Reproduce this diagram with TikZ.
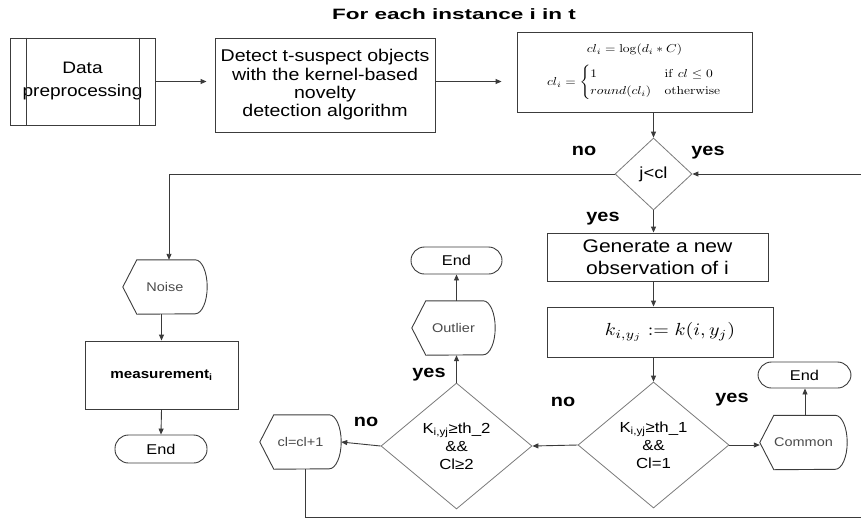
\documentclass[tikz,border=0pt]{standalone}
\usepackage{amsmath}
\usepackage{graphicx}
\usepackage[no-math]{fontspec}
\setmainfont{Liberation Sans}[FakeStretch=1.15]
\newfontfamily\headfont{Liberation Sans}[FakeStretch=1.5]
\usetikzlibrary{shapes.geometric,arrows.meta,calc}

\definecolor{boxgray}{HTML}{3C3C3C}
\definecolor{diagray}{HTML}{7A7A7A}
\definecolor{linegray}{HTML}{3A3A3A}
\definecolor{dispgray}{HTML}{4A4A4A}

\newcommand\fs[2]{\fontsize{#1}{#2}\selectfont}
% outline of a display symbol: pointed left end, rounded right end
\newcommand\dispoutline[1]{%
  \draw[draw=boxgray, line width=0.9pt]
    (#1.west) -- ([xshift=14pt]#1.north west) -- ([xshift=-12pt]#1.north east)
    arc[start angle=90, end angle=-90, x radius=12pt, y radius=27pt]
    -- ([xshift=14pt]#1.south west) -- cycle;}

\tikzset{
  box/.style={draw=boxgray, line width=0.9pt, rectangle, inner sep=0pt, align=center},
  dec/.style={draw=diagray, line width=0.8pt, diamond, inner sep=0pt, align=center},
  term/.style={draw=boxgray, line width=0.9pt, rectangle, rounded corners=13.5pt,
    inner sep=0pt, font=\fs{14.2}{16}},
  disp/.style={rectangle, inner sep=0pt, minimum height=54pt, text=dispgray,
    font=\fs{12.6}{15}},
  flow/.style={draw=linegray, line width=0.9pt, -{Triangle[length=6pt,width=5pt]}},
  lbl/.style={font=\bfseries\fs{17.3}{20}, anchor=base},
}

\begin{document}
\begin{tikzpicture}[x=1pt, y=1pt]
\useasboundingbox (0,0) rectangle (861,-520);
\clip (0,0) rectangle (861,-520);

% heading
\node[font=\headfont\bfseries\fs{15}{18}, anchor=base] (title) at (454,-19) {For each instance i in t};

% top row
\node[box, minimum width=145, minimum height=87, font=\fs{16.6}{23}] (prep) at (82.5,-81.5) {Data\\preprocessing};
\draw[draw=boxgray, line width=0.9pt] ([xshift=17pt]prep.north west) -- ([xshift=17pt]prep.south west);
\draw[draw=boxgray, line width=0.9pt] ([xshift=-16pt]prep.north east) -- ([xshift=-16pt]prep.south east);

\node[box, minimum width=220, minimum height=94, font=\fs{17}{18.3}] (detect) at (325,-85)
  {Detect t-suspect objects\\with the kernel-based\\novelty\\detection algorithm};

\node[box, minimum width=235, minimum height=80] (calc) at (634.5,-72)
  {\scalebox{1.35}[1.15]{$cl_i=\log(d_i*C)$}\\[9pt]
   \scalebox{1.35}[1.15]{$cl_i=\begin{cases}1 & \mathrm{if}\ cl\le 0\\ round(cl_i) & \mathrm{otherwise}\end{cases}$}};

% loop test
\node[dec, minimum width=77, minimum height=72, aspect=1.07, font=\fs{16}{18}] (jc) at (653.5,-174) {j<cl};

\node[box, minimum width=221, minimum height=48, font=\fs{18.3}{21.7}] (gen) at (657.5,-257)
  {Generate a new\\observation of i};
\node[box, minimum width=226, minimum height=50] (kk) at (660,-332)
  {\hspace*{20pt}\scalebox{2.0}[1.75]{$k_{i,y_j}:=k(i,y_j)$}};

% threshold tests
\node[dec, minimum width=151, minimum height=126, aspect=1.2, font=\fs{14.6}{18}] (k1) at (653.5,-445)
  {K\textsubscript{i,yj}≥th\_1\\\&\&\\Cl=1};
\node[dec, minimum width=151, minimum height=126, aspect=1.2, font=\fs{14.6}{18}] (k2) at (456.5,-446)
  {K\textsubscript{i,yj}≥th\_2\\\&\&\\Cl≥2};

% display symbols
\node[disp, minimum width=87] (common) at (803.5,-442.5) {Common};
\dispoutline{common}
\node[disp, minimum width=83] (outlier) at (453.5,-328) {Outlier};
\dispoutline{outlier}
\node[disp, minimum width=81] (incr) at (300.5,-442) {cl=cl+1};
\dispoutline{incr}
\node[disp, minimum width=84] (noise) at (165,-287) {Noise};
\dispoutline{noise}

\node[box, minimum width=153, minimum height=68, font=\bfseries\fs{13.2}{16}] (meas) at (161.5,-375)
  {measurement\textsubscript{i}};

% terminators
\node[term, minimum width=93, minimum height=26] (end3) at (804.5,-375) {End};
\node[term, minimum width=91, minimum height=27] (end2) at (456.5,-260.5) {End};
\node[term, minimum width=92, minimum height=28] (end1) at (161,-449) {End};

% connectors
\draw[flow, shorten >=8pt] (prep.east) -- (prep.east -| detect.west);
\draw[flow, shorten >=15pt] (prep.east -| detect.east) -- (prep.east -| calc.west);
\draw[flow] (jc.north |- calc.south) -- (jc.north);
\draw[flow] (jc.south) -- (jc.south |- gen.north);
\draw[flow] (jc.south |- gen.south) -- (jc.south |- kk.north);
\draw[flow] (jc.south |- kk.south) -- (k1.north);
\draw[flow] (k1.east) -- (k1.east -| common.west);
\draw[flow] ([xshift=1.5pt]common.north) -- ([xshift=1.5pt]common.north |- end3.south);
\draw[flow] (k1.west) -- (k2.east);
\draw[flow] (k2.north) -- (k2.north |- outlier.south);
\draw[flow] (k2.north |- outlier.north) -- (k2.north |- end2.south);
\draw[flow] (k2.west) -- (incr.east);
\coordinate (loopcorner) at (866,-517);
\draw[flow] ([xshift=4.5pt]incr.south) |- (loopcorner) |- (jc.east);
\draw[flow] (jc.west) -| ([xshift=4pt]noise.north);
\draw[flow] (meas.north |- noise.south) -- (meas.north);
\draw[flow] (meas.south) -- (end1.north);

% branch labels
\node[lbl] (l1) at (584,-155) {no};
\node[lbl] (l2) at (708,-155) {yes};
\node[lbl] (l3) at (603,-221) {yes};
\node[lbl] (l4) at (429,-377) {yes};
\node[lbl] (l5) at (366,-426) {no};
\node[lbl] (l6) at (563,-406) {no};
\node[lbl] (l7) at (732,-402) {yes};
\end{tikzpicture}
\end{document}
